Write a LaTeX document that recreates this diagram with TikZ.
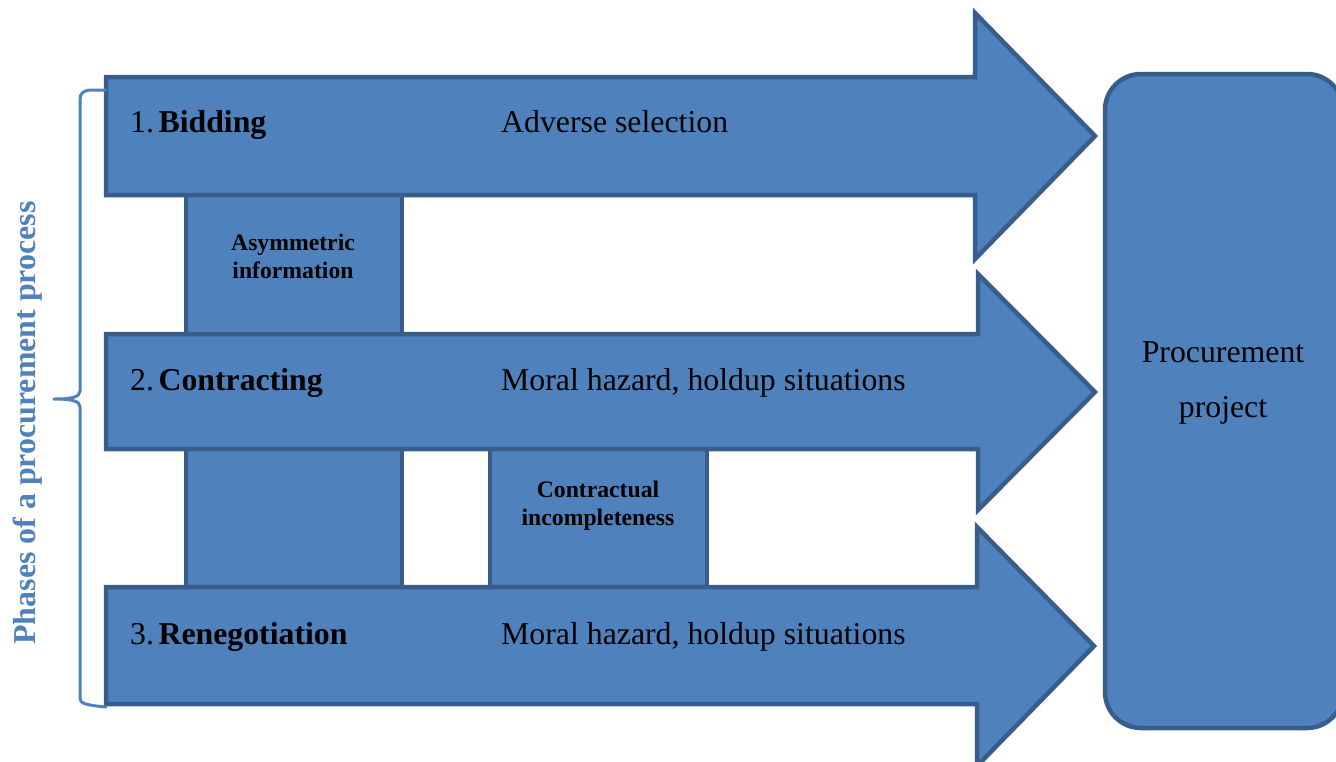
\documentclass[tikz,border=0pt]{standalone}
\usepackage{fontspec}
\setmainfont{Liberation Serif}
\definecolor{boxfill}{HTML}{4F81BD}
\definecolor{boxline}{HTML}{385D8A}
\definecolor{bracecol}{HTML}{4F81BD}
\tikzset{
  shapebox/.style={fill=boxfill, draw=boxline, line width=4.5pt, line join=miter},
  maintext/.style={anchor=base west, inner sep=0pt, font=\fontsize{31.8}{36}\selectfont},
  smalltext/.style={align=center, inner sep=0pt, font=\fontsize{23.7}{27.5}\selectfont\bfseries},
  bracestyle/.style={draw=bracecol, line width=3pt, line cap=round, line join=round},
}
\begin{document}
\begin{tikzpicture}[x=1pt, y=-1pt]
\path[use as bounding box] (0,0) rectangle (1336,761);
\clip (0,0) rectangle (1336,761);
% connecting boxes
\draw[shapebox] (186,195) rectangle (402,334);
\draw[shapebox] (186,449) rectangle (402,587);
\draw[shapebox] (490,449) rectangle (707,587);
% arrows
\draw[shapebox] (106,77) -- (975,77) -- (975,13) -- (1095,136) -- (975,259) -- (975,195) -- (106,195) -- cycle;
\draw[shapebox] (106,334) -- (978,334) -- (978,274) -- (1095,392) -- (978,510) -- (978,449) -- (106,449) -- cycle;
\draw[shapebox] (106,587) -- (977,587) -- (977,527) -- (1094,646) -- (977,766) -- (977,704) -- (106,704) -- cycle;
% project box
\draw[shapebox, rounded corners=36pt] (1105,74) rectangle (1343,728);
% texts
\node[maintext] (bid) at (130,132) {1.\hspace{4.5pt}\textbf{Bidding}};
\node[maintext] (con) at (130,390) {2.\hspace{4.5pt}\textbf{Contracting}};
\node[maintext] (ren) at (130,644) {3.\hspace{4.5pt}\textbf{Renegotiation}};
\node[maintext] (adv) at (501,132) {Adverse selection};
\node[maintext] (mh1) at (501,390) {Moral hazard, holdup situations};
\node[maintext] (mh2) at (501,644) {Moral hazard, holdup situations};
\node[smalltext, anchor=base] (asym) at (293,278) {Asymmetric\\information};
\node[smalltext, anchor=base] (cinc) at (598,525) {Contractual\\incompleteness};
\node[anchor=base, align=center, inner sep=0pt, font=\fontsize{31.8}{55}\selectfont] (proj) at (1223,417) {Procurement\\project};
% brace
\draw[bracestyle] (106,90) -- (90,90) .. controls (82,91) and (80,94) .. (80,100) -- (80,391)
  .. controls (80,397) and (72,399) .. (54,399)
  .. controls (72,399) and (80,401) .. (80,407) -- (80,698)
  .. controls (80,703) and (84,705) .. (106,707);
\node[rotate=90, inner sep=0pt, text=bracecol, font=\fontsize{31.9}{36}\selectfont\bfseries] (phases) at (28,423) {Phases of a procurement process};
\end{tikzpicture}
\end{document}
